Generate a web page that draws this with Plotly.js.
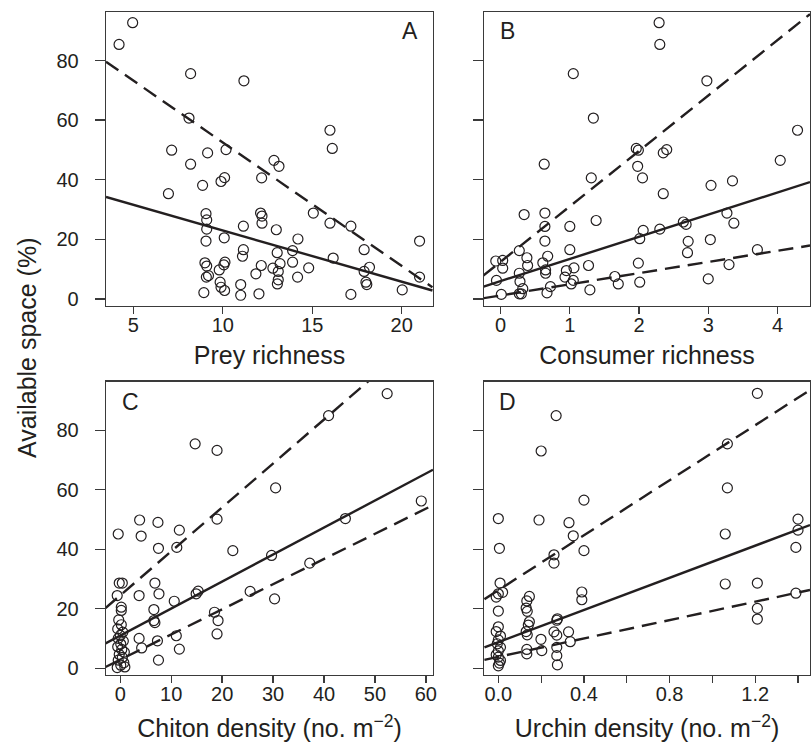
<!DOCTYPE html>
<html><head><meta charset="utf-8">
<script src="https://cdn.plot.ly/plotly-3.0.1.min.js"></script>
<style>html,body{margin:0;padding:0;background:#fff}#chart{width:811px;height:745px}</style>
</head><body><div id="chart"></div>
<script>
// Panel A: prey richness vs available space
const preyRichness = [4.2,4.96,8.2,11.18,8.11,15.99,16.12,7.14,9.15,10.18,8.2,12.86,13.14,9.9,10.1,12.17,8.87,6.96,15.06,12.11,12.19,12.19,15.99,17.16,9.06,9.1,9.06,11.15,12.99,10.08,14.2,11.15,11.1,13.04,13.9,16.17,17.9,21.0,9.0,9.1,10.12,10.06,12.15,13.2,13.9,14.8,9.8,11.85,12.8,13.1,18.2,17.9,9.08,9.2,9.85,9.9,11.0,13.1,13.05,14.18,18.0,18.05,21.0,8.94,10.1,11.0,12.02,17.16,20.03,9.1];
const spaceA = [85.4,92.7,75.6,73.2,60.7,56.6,50.5,49.9,49.0,50.1,45.2,46.5,44.5,39.4,40.7,40.6,38.1,35.3,28.8,28.8,27.8,25.4,25.4,24.4,28.6,23.4,19.4,24.4,23.2,20.5,20.1,16.5,14.3,15.5,16.2,13.7,16.5,19.4,12.1,11.0,12.3,11.4,11.2,11.8,12.3,10.4,9.7,8.4,10.3,9.2,10.6,9.2,7.3,7.8,5.6,3.9,4.8,6.4,5.0,7.3,5.6,4.8,7.3,2.1,2.8,1.2,1.7,1.5,3.0,26.5];
const fitA_x = [3.47, 21.72];
const fitA_mean = [34.2, 2.8];
const fitA_upper = [79.6, 3.9];

// Panel B: consumer richness
const consumerRichness = [2.29,2.30,1.05,2.98,1.34,4.29,1.96,1.99,2.35,2.40,0.63,4.04,1.98,1.31,2.05,3.04,3.35,2.35,0.34,0.64,3.27,1.38,0.64,1.0,2.64,2.68,3.37,2.06,2.30,2.01,0.64,2.71,3.03,0.27,1.0,2.70,3.71,-0.07,0.03,0.38,0.68,0.03,0.39,0.61,0.65,0.65,1.06,1.27,0.95,1.99,3.30,0.27,0.93,1.65,-0.06,0.28,1.05,1.02,1.70,2.01,3.0,0.32,0.72,1.29,0.01,0.27,0.30,0.67];
const spaceB = [92.7,85.4,75.6,73.2,60.7,56.6,50.5,49.9,49.0,50.1,45.2,46.5,44.5,40.6,40.6,38.1,39.6,35.3,28.3,28.8,28.8,26.3,24.3,24.3,25.8,25.0,25.4,23.0,23.4,20.2,19.4,19.3,19.9,16.2,16.5,15.5,16.5,12.7,12.9,13.8,14.3,10.3,11.2,12.1,9.7,8.6,10.4,11.2,9.5,12.0,11.5,8.6,7.3,7.5,6.2,5.8,6.2,5.0,5.0,5.6,6.7,3.4,4.1,3.0,1.5,1.7,1.7,2.0];
const fitB_x = [-0.25, 4.47];
const fitB_mean = [4.1, 39.2];
const fitB_upper = [7.8, 95.6];
const fitB_lower = [0.2, 17.9];

// Panel C: chiton density
const chitonDensity = [52.4,40.9,14.7,19.0,30.5,59.1,3.8,7.4,11.6,19.0,-0.4,4.1,7.5,11.1,22.1,44.2,29.7,37.2,25.5,30.3,
  -0.2,0.4,6.8,-0.6,3.7,7.6,10.6,15.3,14.9,0.2,0.2,6.6,6.6,6.8,18.5,19.2,19.0,3.7,4.2,7.3,11.0,11.6,7.5,
  -0.3,0.2,-0.5,0.5,0.0,-0.4,0.6,0.1,-0.5,0.3,0.8,-0.2,0.4,-0.4,0.7,0.1,0.9,-0.6];
const spaceC = [92.3,84.9,75.4,73.2,60.6,56.2,49.8,49.0,46.4,50.1,45.1,44.4,40.3,40.6,39.5,50.3,37.9,35.3,25.8,23.3,
  28.6,28.6,28.6,24.4,24.4,25.0,22.5,25.9,25.0,20.5,19.4,19.7,16.0,15.3,18.8,16.0,11.5,10.0,6.8,9.2,10.9,6.4,2.7,
  16.2,14.6,13.2,12.1,11.0,10.0,9.1,8.1,7.2,6.3,5.4,4.6,3.6,2.7,1.8,1.0,0.4,0.2];
const fitC_x = [-2.9, 61.4];
const fitC_mean = [8.3, 66.7];
const fitC_upper = [20.2, 115.2];
const fitC_lower = [0.4, 54.8];

// Panel D: urchin density
const urchinDensity = [1.21,0.27,0.20,1.07,1.07,0.40,0.0,0.19,0.33,0.35,1.06,1.40,1.40,1.39,0.005,0.26,0.26,0.40,1.06,1.21,1.21,1.21,1.39,
  0.008,0.0,0.02,-0.01,0.0,0.145,0.133,0.13,0.135,0.145,0.14,0.13,0.135,0.273,0.276,0.26,0.273,0.328,0.336,0.199,0.203,0.273,0.273,0.276,0.133,0.133,0.39,0.39,
  0.0,-0.01,0.01,0.0,-0.005,0.01,0.0,-0.01,0.0,0.01,0.005,0.0];
const spaceD = [92.4,84.9,73.0,75.4,60.6,56.5,50.3,49.8,48.9,44.5,45.1,50.1,46.4,40.6,40.3,38.1,35.3,39.5,28.3,28.6,20.1,16.5,25.2,
  28.6,25.0,25.5,23.9,19.2,24.1,22.6,20.2,19.1,15.6,14.5,12.3,11.2,16.1,16.6,12.2,11.1,12.2,8.9,9.7,5.9,7.0,4.2,1.1,6.3,4.8,25.6,23.0,
  13.9,12.3,10.8,9.5,8.2,7.0,5.8,4.5,3.7,2.6,1.7,0.8];
const fitD_x = [-0.065, 1.456];
const fitD_mean = [7.0, 48.1];
const fitD_upper = [23.2, 93.5];
const fitD_lower = [2.8, 26.3];

const yTickVals = [0, 20, 40, 60, 80];
const urchinTicks = [0, 0.4, 0.8, 1.2];
const urchinTickText = ['0.0', '0.4', '0.8', '1.2'];
const urchinMinorTicks = [0.2, 0.6, 1.0, 1.4];

const INK = '#231f20';
function pts(x, y, ax) {
  return {x: x, y: y, xaxis: 'x' + ax, yaxis: 'y' + ax, type: 'scatter', mode: 'markers',
    marker: {symbol: 'circle-open', size: 10, color: INK, line: {width: 1.2, color: INK}},
    hoverinfo: 'x+y', showlegend: false, cliponaxis: true};
}
function fit(x, y, ax, dashed) {
  return {x: x, y: y, xaxis: 'x' + ax, yaxis: 'y' + ax, type: 'scatter', mode: 'lines',
    line: {color: INK, width: 2.4, dash: dashed ? '15px,8px' : 'solid'},
    hoverinfo: 'skip', showlegend: false};
}
const traces = [
  pts(preyRichness, spaceA, ''), fit(fitA_x, fitA_mean, '', false), fit(fitA_x, fitA_upper, '', true),
  pts(consumerRichness, spaceB, '2'), fit(fitB_x, fitB_mean, '2', false), fit(fitB_x, fitB_upper, '2', true), fit(fitB_x, fitB_lower, '2', true),
  pts(chitonDensity, spaceC, '3'), fit(fitC_x, fitC_mean, '3', false), fit(fitC_x, fitC_upper, '3', true), fit(fitC_x, fitC_lower, '3', true),
  pts(urchinDensity, spaceD, '4'), fit(fitD_x, fitD_mean, '4', false), fit(fitD_x, fitD_upper, '4', true), fit(fitD_x, fitD_lower, '4', true)
];

const W = 811, H = 745;
const FONT = '"Liberation Sans", Arial, Helvetica, sans-serif';
const colL = [106 / W, 433 / W], colR = [484 / W, 810 / W];
const rowT = [1 - 305.7 / H, 1 - 12 / H], rowB = [1 - 675 / H, 1 - 381.7 / H];
const frame = {showline: true, mirror: true, linecolor: '#3a3a3a', linewidth: 1.3, showgrid: false, zeroline: false,
  ticks: 'outside', tickcolor: '#3a3a3a', tickwidth: 1.3, tickfont: {family: FONT, size: 20, color: INK}};
function xax(dom, anchor, range, title, standoff, extra) {
  return Object.assign({}, frame, {domain: dom, anchor: anchor, range: range, ticklen: 7, ticklabelstandoff: -6,
    title: {text: title, font: {family: FONT, size: 25, color: INK}, standoff: standoff}}, extra || {});
}
function yax(dom, anchor, labels) {
  return Object.assign({}, frame, {domain: dom, anchor: anchor, range: [-2.3, 96.3], ticklen: 10,
    tickvals: yTickVals, showticklabels: labels, ticklabelstandoff: 12});
}
function letter(t, px, py) {
  return {text: t, x: px / W, y: 1 - py / H, xref: 'paper', yref: 'paper', showarrow: false,
    xanchor: 'center', yanchor: 'middle', font: {family: FONT, size: 23, color: INK}};
}
const layout = {
  width: W, height: H, margin: {l: 0, r: 0, t: 0, b: 0, pad: 0},
  paper_bgcolor: '#fff', plot_bgcolor: '#fff', showlegend: false,
  font: {family: FONT, color: INK},
  xaxis: xax(colL, 'y', [3.47, 21.75], 'Prey richness', 11, {tickvals: [5, 10, 15, 20]}),
  yaxis: yax(rowT, 'x', true),
  xaxis2: xax(colR, 'y2', [-0.24, 4.47], 'Consumer richness', 11, {tickvals: [0, 1, 2, 3, 4]}),
  yaxis2: yax(rowT, 'x2', false),
  xaxis3: xax(colL, 'y3', [-2.8, 61.4], 'Chiton density (no. m<sup>\u22122</sup>)', 15, {tickvals: [0, 10, 20, 30, 40, 50, 60]}),
  yaxis3: yax(rowB, 'x3', true),
  xaxis4: xax(colR, 'y4', [-0.067, 1.456], 'Urchin density (no. m<sup>\u22122</sup>)', 15, {
    tickvals: urchinTicks, ticktext: urchinTickText,
    minor: {tickmode: 'array', tickvals: urchinMinorTicks, ticks: 'outside', ticklen: 7, tickwidth: 1.3, tickcolor: '#3a3a3a', showgrid: false}}),
  yaxis4: yax(rowB, 'x4', false),
  annotations: [
    letter('A', 410, 31), letter('B', 507, 31), letter('C', 130, 402), letter('D', 507, 402),
    {text: 'Available space (%)', textangle: -90, x: 27 / W, y: 1 - 348 / H, xref: 'paper', yref: 'paper',
      showarrow: false, xanchor: 'center', yanchor: 'middle', font: {family: FONT, size: 25, color: INK}}
  ]
};
Plotly.newPlot('chart', traces, layout, {staticPlot: true, displayModeBar: false});
</script>
</body></html>
